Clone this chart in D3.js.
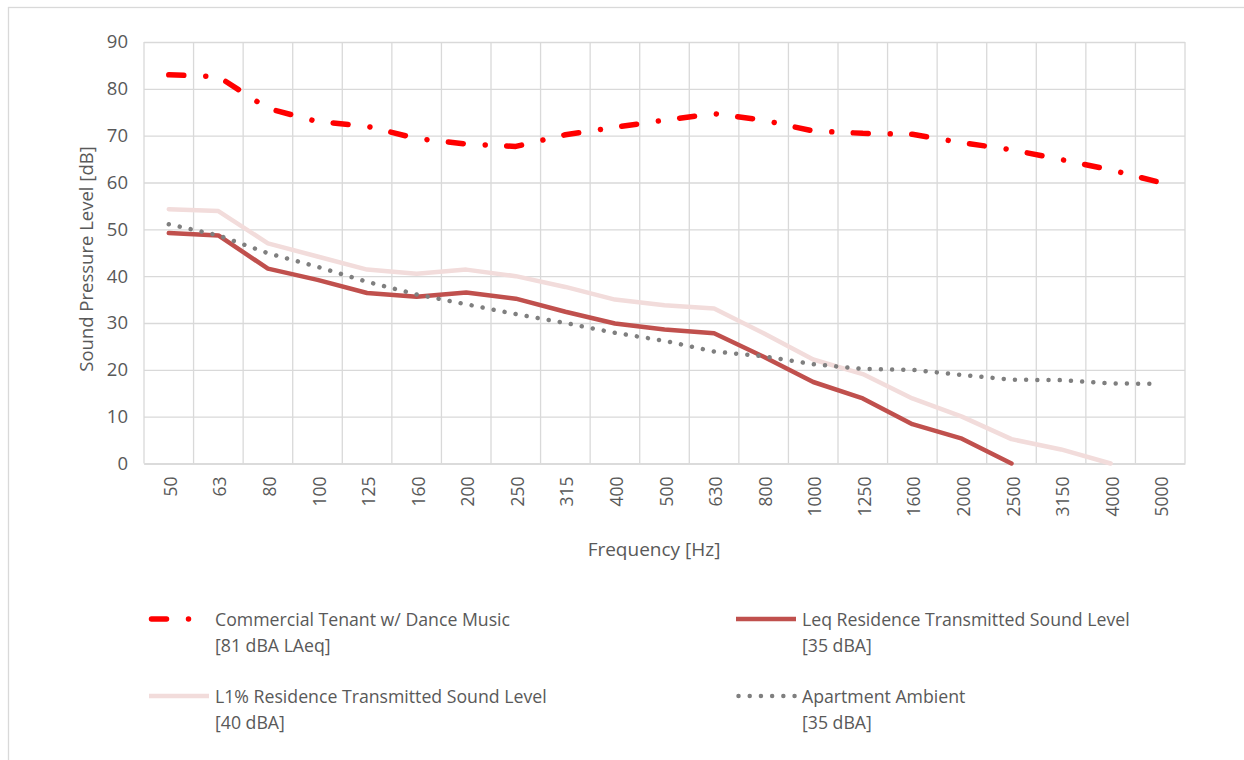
<!DOCTYPE html>
<html>
<head>
<meta charset="utf-8">
<script src="https://cdn.jsdelivr.net/npm/d3@7"></script>
<style>
  body { margin: 0; background: #ffffff; }
  text { font-family: "Open Sans", sans-serif; fill: #595959; }
</style>
</head>
<body>
<div id="chart"></div>
<script>
// frequency bands (1/3 octave) and the levels, in dB
var freqs = ["50", "63", "80", "100", "125", "160", "200", "250", "315", "400", "500",
    "630", "800", "1000", "1250", "1600", "2000", "2500", "3150", "4000", "5000"];
var commercial = [83.0, 82.6, 75.8, 73.0, 72.0, 69.4, 68.2, 67.7, 70.2, 71.8, 73.3,
    74.7, 73.3, 71.0, 70.5, 70.3, 68.5, 67.0, 64.9, 62.7, 60.0];
var leqResidence = [49.2, 48.7, 41.6, 39.2, 36.4, 35.6, 36.5, 35.2, 32.4, 29.9, 28.6,
    27.8, 22.8, 17.4, 13.9, 8.4, 5.3, 0.0, null, null, null];
var l1Residence = [54.3, 53.9, 47.0, 44.2, 41.4, 40.5, 41.4, 40.0, 37.7, 35.0, 33.8,
    33.1, 27.8, 22.2, 19.1, 13.9, 10.0, 5.2, 3.0, 0.0, null];
var ambient = [51.1, 48.7, 44.9, 42.0, 38.8, 36.1, 34.0, 31.9, 30.0, 27.9, 26.2,
    23.9, 22.9, 21.2, 20.2, 20.0, 18.9, 17.9, 17.8, 17.1, 17.0];
var yTicks = [0, 10, 20, 30, 40, 50, 60, 70, 80, 90];

var seriesNames = [
    ["Commercial Tenant w/ Dance Music", "[81 dBA LAeq]"],
    ["Leq Residence Transmitted Sound Level", "[35 dBA]"],
    ["L1% Residence Transmitted Sound Level", "[40 dBA]"],
    ["Apartment Ambient", "[35 dBA]"]
];

// line styles, same order as seriesNames
var styles = [
    { color: "#ff0000", width: 5.5, dash: "15,22,0.01,21.5" },
    { color: "#c0504d", width: 4.5, dash: null },
    { color: "#f2dcdb", width: 4.5, dash: null },
    { color: "#7f7f7f", width: 4.5, dash: "0.01,11.2" }
];
var allSeries = [commercial, leqResidence, l1Residence, ambient];

// set the dimensions and margins of the graph
var margin = { top: 42, left: 144 },
    width = 1041,
    height = 421.5;

var svg = d3.select("#chart")
    .append("svg")
    .attr("width", 1244)
    .attr("height", 760);

// light chart border
svg.append("rect")
    .attr("x", 8.5)
    .attr("y", 7.5)
    .attr("width", 1300)
    .attr("height", 800)
    .attr("fill", "none")
    .attr("stroke", "#d9d9d9")
    .attr("stroke-width", 1.3);

var g = svg.append("g")
    .attr("transform", "translate(" + margin.left + "," + margin.top + ")");

var x = d3.scaleBand()
    .domain(freqs)
    .range([0, width]);

var y = d3.scaleLinear()
    .domain([0, 90])
    .range([height, 0]);

// horizontal gridlines
g.append("g")
    .attr("color", "#d9d9d9")
    .call(d3.axisLeft(y).tickValues(yTicks).tickSize(-width).tickFormat(""))
    .call(function (a) { a.select(".domain").remove(); })
    .selectAll("line").attr("stroke-width", 1.3);

// vertical gridlines at band boundaries
var bounds = freqs.map(function (f) { return x(f); }).concat([width]);
g.append("g")
    .selectAll("line")
    .data(bounds)
    .enter()
    .append("line")
    .attr("x1", function (d) { return d; })
    .attr("x2", function (d) { return d; })
    .attr("y1", 0)
    .attr("y2", height)
    .attr("stroke", "#d9d9d9")
    .attr("stroke-width", 1.3);

// Y axis labels
var yAxis = g.append("g")
    .call(d3.axisLeft(y).tickValues(yTicks).tickSize(0).tickPadding(16));
yAxis.select(".domain").remove();
yAxis.selectAll("text")
    .style("font-size", "18.5px")
    .attr("fill", "#595959");

// X axis with rotated labels
var xAxis = g.append("g")
    .attr("transform", "translate(0," + height + ")")
    .call(d3.axisBottom(x).tickSize(0));
xAxis.select(".domain").attr("stroke", "#d9d9d9").attr("stroke-width", 1.3);
xAxis.selectAll("text")
    .style("font-size", "17.5px")
    .attr("fill", "#595959")
    .attr("text-anchor", "end")
    .attr("transform", "translate(2,13) rotate(-90)")
    .attr("x", 0)
    .attr("y", 0)
    .attr("dy", "0.35em");

// axis titles
svg.append("text")
    .attr("text-anchor", "middle")
    .attr("transform", "translate(93,259) rotate(-90)")
    .style("font-size", "18.5px")
    .text("Sound Pressure Level [dB]");

svg.append("text")
    .attr("text-anchor", "middle")
    .attr("x", 654)
    .attr("y", 556)
    .style("font-size", "19px")
    .text("Frequency [Hz]");

// Draw the lines
var line = d3.line()
    .defined(function (d) { return d != null; })
    .x(function (d, i) { return x(freqs[i]) + x.bandwidth() / 2; })
    .y(function (d) { return y(d); });

g.selectAll(".series")
    .data(allSeries)
    .enter()
    .append("path")
    .attr("fill", "none")
    .attr("stroke", function (d, i) { return styles[i].color; })
    .attr("stroke-width", function (d, i) { return styles[i].width; })
    .attr("stroke-dasharray", function (d, i) { return styles[i].dash; })
    .attr("stroke-linecap", "round")
    .attr("stroke-linejoin", "round")
    .attr("d", line);

// legend, two columns by two rows
var legendPos = [[149, 619], [736, 619], [149, 696], [736, 696]];
var legend = svg.selectAll(".legend")
    .data(seriesNames)
    .enter()
    .append("g")
    .attr("transform", function (d, i) { return "translate(" + legendPos[i][0] + "," + legendPos[i][1] + ")"; });

legend.append("line")
    .attr("x1", function (d, i) { return styles[i].dash ? 2.5 : 0; })
    .attr("x2", 60)
    .attr("y1", 0)
    .attr("y2", 0)
    .attr("stroke", function (d, i) { return styles[i].color; })
    .attr("stroke-width", function (d, i) { return styles[i].width; })
    .attr("stroke-dasharray", function (d, i) { return styles[i].dash; })
    .attr("stroke-linecap", function (d, i) { return styles[i].dash ? "round" : "butt"; });

legend.append("text")
    .attr("x", 66)
    .attr("y", 6.5)
    .style("font-size", "17.7px")
    .text(function (d) { return d[0]; });

legend.append("text")
    .attr("x", 66)
    .attr("y", 32.5)
    .style("font-size", "17.7px")
    .text(function (d) { return d[1]; });
</script>
</body>
</html>
